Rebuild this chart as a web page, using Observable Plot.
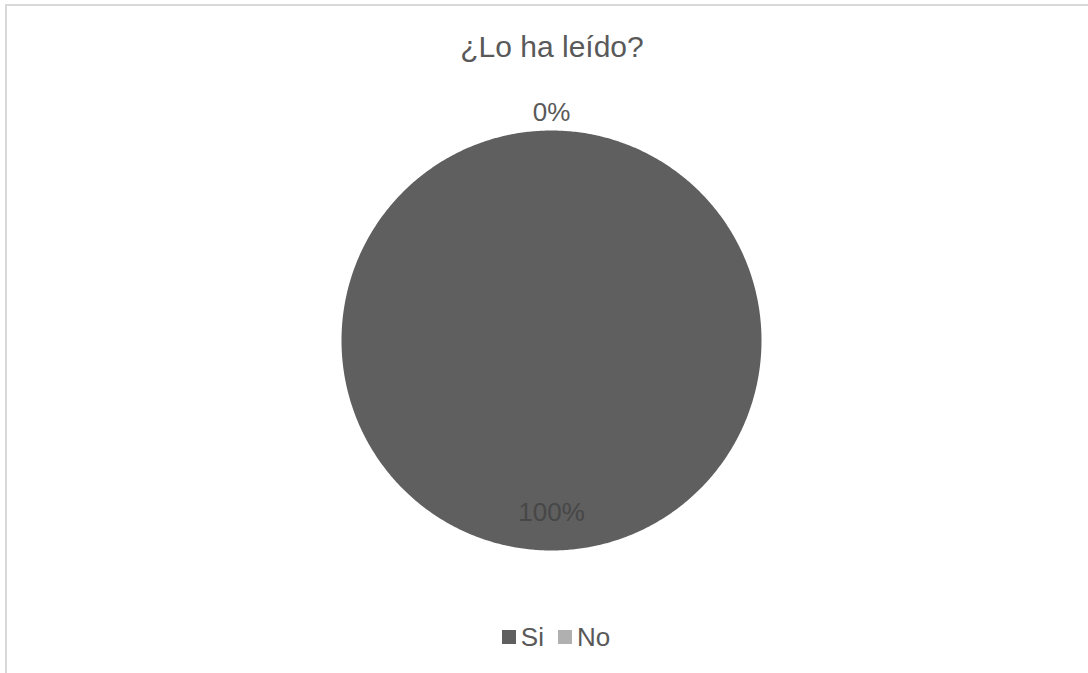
<!DOCTYPE html>
<html>
<head>
<meta charset="utf-8">
<script src="https://cdn.jsdelivr.net/npm/d3@7"></script>
<script src="https://cdn.jsdelivr.net/npm/@observablehq/plot@0.6"></script>
<style>
  html, body { margin: 0; padding: 0; background: #fff; overflow: hidden; }
  body { width: 1088px; height: 673px; position: relative; font-family: "Liberation Sans", Arial, sans-serif; }
  #frame { position: absolute; left: 5px; top: 4px; width: 1100px; height: 700px; border: 2px solid #d9d9d9; box-sizing: border-box; }
  #title { position: absolute; left: 6px; width: 1092px; top: 32px; text-align: center; font-size: 30px; color: #595959; line-height: 30px; white-space: nowrap; }
  #chart { position: absolute; left: 0; top: 100px; }
  #legend { position: absolute; left: 6px; width: 1100px; top: 622px; display: flex; justify-content: center; align-items: center; font-size: 26px; color: #595959; line-height: 30px; }
  .item { display: flex; align-items: center; margin: 0 7px; }
  .sw { width: 14px; height: 14px; margin-right: 5px; display: inline-block; }
</style>
</head>
<body>
<div id="frame"></div>
<div id="title"></div>
<div id="chart"></div>
<div id="legend"></div>
<script>
// Data
const categories = ["Si", "No"];
const values = [100, 0];
const colors = ["#5f5f5f", "#b0b0b0"];
const titleText = "¿Lo ha leído?";

document.getElementById("title").textContent = titleText;

// Pie geometry (angles from d3.pie, clockwise from 12 o'clock)
const pie = d3.pie().sort(null).value(d => d.value);
const slices = pie(categories.map((c, i) => ({name: c, value: values[i]})));
const total = d3.sum(values);

const outline = [];
for (const s of slices) {
  const n = Math.max(2, Math.ceil((s.endAngle - s.startAngle) / (Math.PI / 360)));
  outline.push({name: s.data.name, x: 0, y: 0});
  for (let k = 0; k <= n; k++) {
    const a = s.startAngle + (s.endAngle - s.startAngle) * k / n;
    outline.push({name: s.data.name, x: Math.sin(a), y: Math.cos(a)});
  }
  outline.push({name: s.data.name, x: 0, y: 0});
}

const labels = slices.map(s => {
  const mid = (s.startAngle + s.endAngle) / 2;
  const share = s.data.value / total;
  const r = share > 0 ? 0.819 : 1.083;
  return {
    name: s.data.name,
    text: Math.round(share * 100) + "%",
    x: r * Math.sin(mid),
    y: r * Math.cos(mid),
    inside: share > 0
  };
});

const chart = Plot.plot({
  width: 1088,
  height: 500,
  margin: 0,
  x: {domain: [-1, 1], range: [341, 761], axis: null},
  y: {domain: [-1, 1], range: [450, 30], axis: null},
  color: {domain: categories, range: colors},
  style: {fontFamily: "'Liberation Sans', Arial, sans-serif", background: "transparent", overflow: "visible"},
  marks: [
    Plot.line(outline, {x: "x", y: "y", z: "name", fill: "name", stroke: null, curve: "linear"}),
    Plot.text(labels.filter(d => d.inside), {x: "x", y: "y", text: "text", fontSize: 26, fill: "#474747"}),
    Plot.text(labels.filter(d => !d.inside), {x: "x", y: "y", text: "text", fontSize: 26, fill: "#595959"})
  ]
});
document.getElementById("chart").appendChild(chart);

// Legend
const legend = document.getElementById("legend");
categories.forEach((c, i) => {
  const item = document.createElement("span");
  item.className = "item";
  const sw = document.createElement("span");
  sw.className = "sw";
  sw.style.background = colors[i];
  item.appendChild(sw);
  item.appendChild(document.createTextNode(c));
  legend.appendChild(item);
});
</script>
</body>
</html>
